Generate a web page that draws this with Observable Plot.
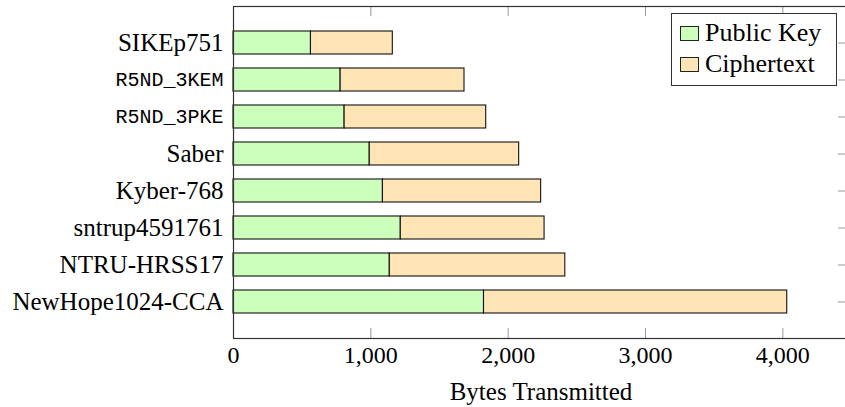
<!DOCTYPE html>
<html>
<head>
<meta charset="utf-8">
<script src="https://cdn.jsdelivr.net/npm/d3@7"></script>
<script src="https://cdn.jsdelivr.net/npm/@observablehq/plot@0.6"></script>
<style>
  html, body { margin: 0; padding: 0; background: white; overflow: hidden; }
  #wrap { position: relative; width: 845px; height: 407px; overflow: hidden; }
  #legend { position: absolute; left: 671px; top: 13px; width: 164px; height: 71px;
    border: 1px solid #333; background: white; font-family: "Liberation Serif", serif; font-size: 26px; color: #000; }
  .row { position: absolute; left: 8px; height: 30px; display: flex; align-items: center; }
  .sw { width: 19px; height: 15px; border: 1px solid #222; margin-right: 6px; box-sizing: border-box; }
</style>
</head>
<body>
<div id="wrap"></div>
<script>
const categories = ["SIKEp751", "R5ND_3KEM", "R5ND_3PKE", "Saber", "Kyber-768", "sntrup4591761", "NTRU-HRSS17", "NewHope1024-CCA"];
const monoCategories = ["R5ND_3KEM", "R5ND_3PKE"];
const publicKey = [564, 780, 809, 992, 1088, 1218, 1138, 1824];
const ciphertext = [596, 902, 1031, 1088, 1152, 1047, 1278, 2208];
const seriesNames = ["Public Key", "Ciphertext"];
const seriesColors = ["#CCFFBB", "#FFE4B5"];
const xTicks = [0, 1000, 2000, 3000, 4000];
const xLabel = "Bytes Transmitted";

const rows = [];
categories.forEach((c, i) => {
  rows.push({name: c, type: seriesNames[0], value: publicKey[i]});
  rows.push({name: c, type: seriesNames[1], value: ciphertext[i]});
});

const W = 845, H = 407, mL = 233, mR = -3, mT = 6, mB = 69;
const plotW = W - mL - mR, plotH = H - mT - mB;
const tickLen = 10;

const chart = Plot.plot({
  width: W, height: H,
  marginLeft: mL, marginRight: mR, marginTop: mT, marginBottom: mB,
  style: {fontFamily: "'Liberation Serif', serif", fontSize: "24px", color: "#000", background: "white", overflow: "visible"},
  x: {domain: [0, 4478], ticks: xTicks, tickSize: 0, tickPadding: 7, label: null},
  y: {domain: categories, paddingInner: 0.39, paddingOuter: 0.59, axis: null},
  color: {domain: seriesNames, range: seriesColors},
  marks: [
    Plot.ruleX(xTicks.slice(1), {x: d => d, insetTop: plotH - tickLen, stroke: "#999", strokeWidth: 1}),
    Plot.ruleX(xTicks.slice(1), {x: d => d, insetBottom: plotH - tickLen, stroke: "#999", strokeWidth: 1}),
    Plot.ruleY(categories, {y: d => d, insetLeft: plotW - tickLen, stroke: "#999", strokeWidth: 1}),
    Plot.barX(rows, {y: "name", x: "value", fill: "type", stroke: "#111", strokeWidth: 1.1}),
    Plot.text(categories.filter(c => !monoCategories.includes(c)), {y: d => d, text: d => d, frameAnchor: "left", textAnchor: "end", dx: -10, fontSize: 25, fontFamily: "'Liberation Serif', serif", fill: "#000"}),
    Plot.text(monoCategories, {y: d => d, text: d => d, frameAnchor: "left", textAnchor: "end", dx: -10, fontSize: 20, fontFamily: "'Liberation Mono', monospace", fill: "#000"}),
    Plot.text([xLabel], {frameAnchor: "bottom", text: d => d, dy: 61, fontSize: 25, fontFamily: "'Liberation Serif', serif", fill: "#000"}),
    Plot.frame({stroke: "#333", strokeWidth: 1.2})
  ]
});
const wrap = document.getElementById("wrap");
wrap.appendChild(chart);

const legend = document.createElement("div");
legend.id = "legend";
seriesNames.forEach((n, i) => {
  const r = document.createElement("div");
  r.className = "row";
  r.style.top = (4 + i * 31) + "px";
  const sw = document.createElement("div");
  sw.className = "sw";
  sw.style.background = seriesColors[i];
  const t = document.createElement("span");
  t.textContent = n;
  r.appendChild(sw); r.appendChild(t);
  legend.appendChild(r);
});
wrap.appendChild(legend);
</script>
</body>
</html>
